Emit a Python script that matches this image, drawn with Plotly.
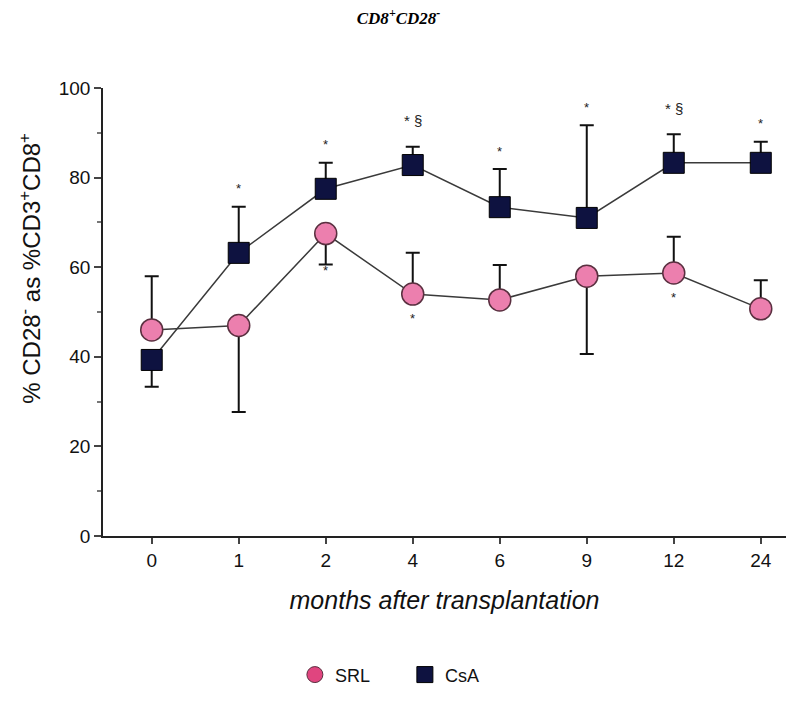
import plotly.graph_objects as go

months = ["0", "1", "2", "4", "6", "9", "12", "24"]

srl_mean = [46.0, 47.0, 67.5, 54.0, 52.7, 58.0, 58.7, 50.7]
srl_err_up = [12.0, 0, 0, 9.2, 7.8, 0, 8.1, 6.4]
srl_err_down = [0, 19.3, 6.9, 0, 0, 17.4, 0, 0]

csa_mean = [39.3, 63.2, 77.5, 82.8, 73.4, 71.0, 83.3, 83.3]
csa_err_up = [0, 10.3, 5.8, 4.1, 8.5, 20.7, 6.4, 4.7]
csa_err_down = [6.0, 0, 0, 0, 0, 0, 0, 0]

csa_sig = ["", "*", "*", "* §", "*", "*", "* §", "*"]
srl_sig = ["", "", "*", "*", "", "", "*", ""]

LINE = "#3a3a3a"
PINK = "#ec7fae"
NAVY = "#0e1240"
FONT = "Liberation Sans Narrow, Liberation Sans, Arial"

fig = go.Figure()

fig.add_trace(go.Scatter(
    x=months, y=csa_mean, name="CsA", mode="lines+markers", showlegend=False,
    line=dict(color=LINE, width=1.5),
    marker=dict(symbol="square", size=21, color=NAVY, line=dict(color="#000000", width=1)),
    error_y=dict(type="data", symmetric=False, array=csa_err_up, arrayminus=csa_err_down,
                 color="#111111", thickness=2, width=7),
))
fig.add_trace(go.Scatter(
    x=months, y=srl_mean, name="SRL", mode="lines+markers", showlegend=False,
    line=dict(color=LINE, width=1.5),
    marker=dict(symbol="circle", size=22, color=PINK, line=dict(color="#5a3040", width=1.5)),
    error_y=dict(type="data", symmetric=False, array=srl_err_up, arrayminus=srl_err_down,
                 color="#111111", thickness=2, width=7),
))

# legend-only entries (markers only, as in the reference)
fig.add_trace(go.Scatter(
    x=[None], y=[None], name="SRL", mode="markers",
    marker=dict(symbol="circle", size=17, color="#e0457f", line=dict(color="#5a3040", width=1)),
))
fig.add_trace(go.Scatter(
    x=[None], y=[None], name="CsA", mode="markers",
    marker=dict(symbol="square", size=19, color=NAVY, line=dict(color="#000000", width=1)),
))

annotations = []
for i, (v, e, s) in enumerate(zip(csa_mean, csa_err_up, csa_sig)):
    if s:
        annotations.append(dict(x=i, y=v + e, text=s, showarrow=False, xref="x", yref="y",
                                yanchor="middle", yshift=26 if "§" in s else 18,
                                font=dict(size=15 if "§" in s else 13, color="#222", family="Liberation Sans")))
for i, (v, e, s) in enumerate(zip(srl_mean, srl_err_down, srl_sig)):
    if s:
        base = v - e if e > 0 else v
        annotations.append(dict(x=i, y=base, text=s, showarrow=False, xref="x", yref="y",
                                yanchor="middle", yshift=-6 if e > 0 else -24,
                                font=dict(size=13, color="#222", family="Liberation Sans")))

# y-axis title as rotated annotation (centred higher than plot centre, as in the reference)
annotations.append(dict(
    x=-0.108, y=0.597, xref="paper", yref="paper", textangle=-90, showarrow=False,
    xanchor="center", yanchor="middle",
    text="% CD28<sup>-</sup> as %CD3<sup>+</sup>CD8<sup>+</sup>",
    font=dict(size=24, family=FONT, color="#111")))

fig.update_layout(
    width=786, height=711,
    margin=dict(l=103, r=0, t=88, b=175),
    paper_bgcolor="white", plot_bgcolor="white",
    font=dict(family=FONT, color="#111"),
    title=dict(text="<b><i>CD8<sup>+</sup>CD28<sup>-</sup></i></b>", x=0.507, xanchor="center",
               y=0.975, yanchor="middle",
               font=dict(family="Liberation Serif, Times New Roman, serif", size=17, color="#000")),
    showlegend=True,
    legend=dict(orientation="h", x=0.442, xanchor="center", y=-0.31, yanchor="middle",
                font=dict(size=18, family="Liberation Sans"),
                itemsizing="trace", entrywidth=65, entrywidthmode="pixels"),
    annotations=annotations,
)

fig.update_xaxes(
    type="category", range=[-0.56, 7.29],
    showline=True, linecolor="#222", linewidth=1.5,
    ticks="outside", ticklen=6, tickcolor="#444", tickwidth=1.5,
    showgrid=False, zeroline=False,
    tickfont=dict(size=19),
    title=dict(text="<i>months after transplantation</i>", font=dict(size=25), standoff=22),
)
fig.update_yaxes(
    range=[0, 100], tickvals=[0, 20, 40, 60, 80, 100],
    showline=True, linecolor="#222", linewidth=1.5,
    ticks="outside", ticklen=7, tickcolor="#444", tickwidth=1.5,
    minor=dict(tickvals=[10, 30, 50, 70, 90], ticks="outside", ticklen=4, tickcolor="#777"),
    showgrid=False, zeroline=False,
    tickfont=dict(size=19),
)

fig.write_html("out.html")
